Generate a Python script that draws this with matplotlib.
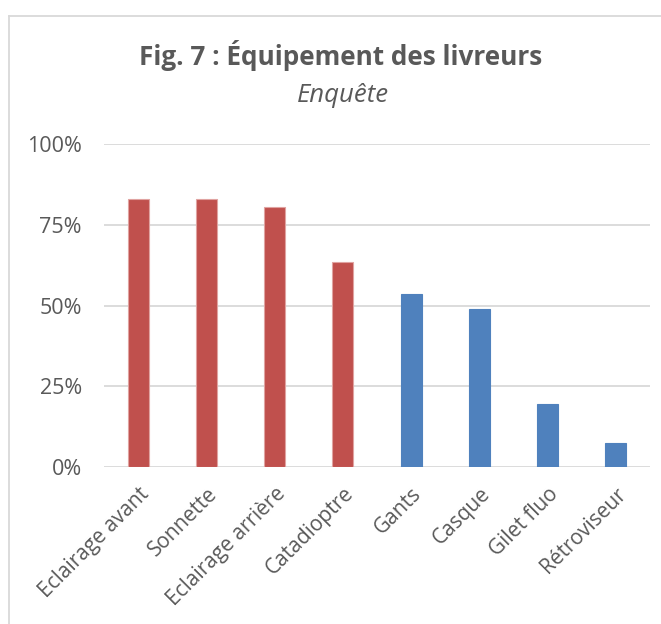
import matplotlib.pyplot as plt
from matplotlib.ticker import FixedLocator, PercentFormatter
from matplotlib.lines import Line2D

categories = ["Eclairage avant", "Sonnette", "Eclairage arrière", "Catadioptre",
              "Gants", "Casque", "Gilet fluo", "Rétroviseur"]
values = [0.829, 0.829, 0.805, 0.634, 0.536, 0.489, 0.194, 0.073]
groups = ["obligatoire"] * 4 + ["facultatif"] * 4
colormapping = {"obligatoire": "#C0504D", "facultatif": "#4F81BD"}
edgemapping = {"obligatoire": "#E0A3A1", "facultatif": "#4F81BD"}
yticks = [0, 0.25, 0.5, 0.75, 1.0]

txt = "#595959"
plt.rcParams['font.family'] = ['Open Sans', 'DejaVu Sans']

fig = plt.figure(figsize=(6.61, 6.24), dpi=100)
left, right, top, bottom = 104, 650, 144.3, 466.7
ax = fig.add_axes([left / 661, 1 - bottom / 624, (right - left) / 661, (bottom - top) / 624])

x = list(range(len(categories)))
colors = [colormapping[g] for g in groups]
edges = [edgemapping[g] for g in groups]
ax.bar(x, values, width=0.31, color=colors, edgecolor=edges, linewidth=0.8, zorder=3)

ax.set_xlim(-0.5, len(categories) - 0.5)
ax.set_ylim(0, 1.0)
ax.yaxis.set_major_locator(FixedLocator(yticks))
ax.yaxis.set_major_formatter(PercentFormatter(1.0, decimals=0))
ax.grid(axis='y', color="#D9D9D9", linewidth=1.3, zorder=0)
for s in ax.spines.values():
    s.set_visible(False)
ax.tick_params(axis='both', length=0, colors=txt)
ax.tick_params(axis='y', pad=16, labelsize=15.5)
ax.set_xticks(x)
ax.set_xticklabels(categories, rotation=45, ha='right', va='top',
                   rotation_mode='anchor', fontsize=15, color=txt)
ax.tick_params(axis='x', pad=12)

fig.text(341 / 661, 1 - 65 / 624, "Fig. 7 : Équipement des livreurs",
         ha='center', va='baseline', fontsize=18.8, fontweight='bold', color=txt)
fig.text(343 / 661, 1 - 101.5 / 624, "Enquête", ha='center', va='baseline',
         fontsize=18.5, style='italic', color=txt)

# chart frame (only top and left visible in the crop)
fig.add_artist(Line2D([9 / 661, 9 / 661], [0, 1 - 15.5 / 624], color="#D9D9D9", lw=1.3))
fig.add_artist(Line2D([9 / 661, 1], [1 - 15.5 / 624, 1 - 15.5 / 624], color="#D9D9D9", lw=1.3))

plt.savefig('out.png', dpi=100)
